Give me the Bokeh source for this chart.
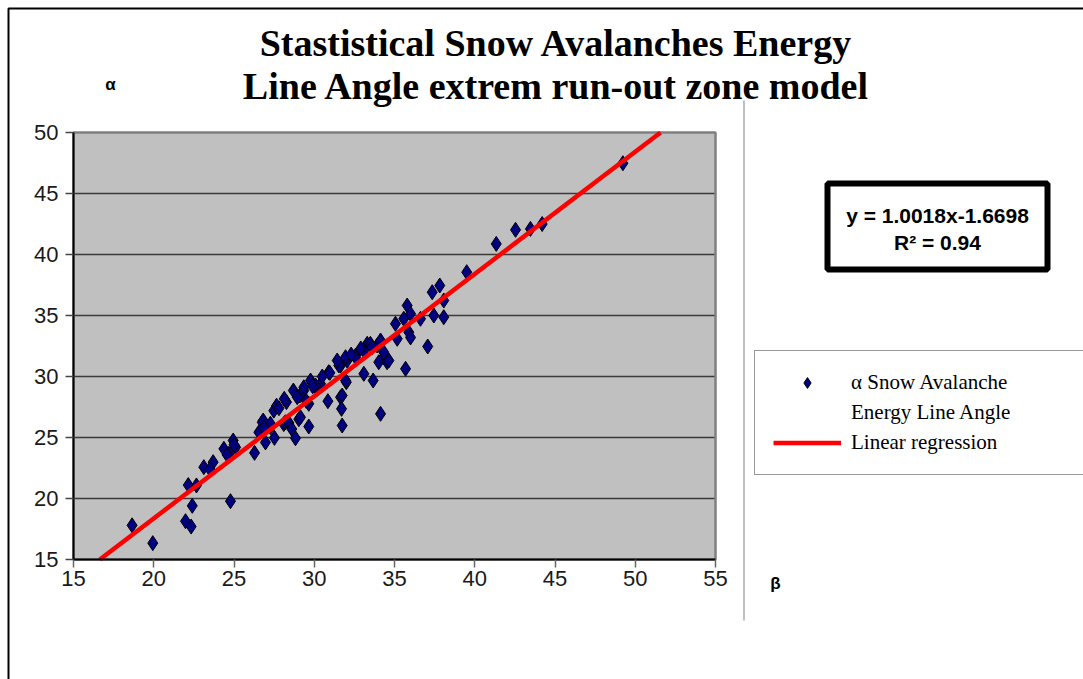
from bokeh.plotting import figure
from bokeh.models import Range1d, Label, BoxAnnotation, Legend, LegendItem, FixedTicker
from bokeh.embed import file_html
from bokeh.resources import INLINE

# ---------------- data ----------------
beta = [18.65, 19.94, 21.98, 22.33, 22.40, 22.15, 22.66, 23.12, 23.70, 23.50,
        24.78, 24.37, 24.95, 24.68, 25.10, 24.57, 26.28, 26.55, 26.96, 26.76,
        26.82, 27.52, 28.10, 27.27, 27.27, 27.48, 27.65, 28.27, 28.20, 28.42,
        28.60, 28.83, 29.04, 29.14, 29.66, 29.35, 29.35, 29.77, 30.39, 30.18,
        30.08, 30.90, 30.97, 30.85, 31.64, 31.70, 31.74, 32.00, 31.95, 31.64,
        31.53, 32.05, 31.43, 31.95, 32.57, 32.57, 33.09, 33.67, 34.13, 33.30,
        33.92, 34.33, 34.02, 34.54, 28.13, 29.10, 28.70, 26.86, 31.74, 33.09,
        33.50, 34.13, 34.33, 34.65, 35.69, 35.06, 35.17, 35.58, 35.79, 35.89,
        36.00, 36.62, 37.45, 38.07, 37.07, 37.35, 37.82, 38.07, 39.50, 41.34,
        42.54, 43.47, 44.20, 49.23, 29.66, 28.94, 27.80, 25.00, 36.00, 32.30,
        32.90, 33.60, 30.50, 29.90, 29.50]
alpha = [17.80, 16.34, 18.14, 17.70, 19.40, 21.10, 21.07, 22.57, 22.98, 22.40,
         19.78, 24.07, 24.75, 23.66, 24.20, 23.58, 23.74, 25.43, 24.60, 26.25,
         26.39, 24.97, 26.10, 25.85, 26.13, 27.20, 27.60, 27.90, 26.25, 26.20,
         25.70, 24.94, 26.50, 26.66, 25.90, 28.85, 29.12, 29.67, 29.40, 28.99,
         29.26, 30.35, 30.30, 27.98, 28.30, 27.35, 25.98, 29.53, 29.67, 30.90,
         30.90, 31.30, 31.31, 31.58, 31.70, 31.58, 30.22, 29.67, 26.94, 32.68,
         32.54, 31.58, 31.17, 31.17, 28.17, 28.44, 28.85, 25.80, 28.44, 32.13,
         32.68, 32.95, 31.99, 31.31, 30.63, 34.32, 33.09, 34.73, 35.82, 33.63,
         35.14, 34.73, 35.00, 34.86, 32.46, 36.91, 37.46, 36.23, 38.55, 40.87,
         42.02, 42.10, 42.50, 47.48, 27.76, 28.30, 27.40, 24.40, 33.20, 31.80,
         32.30, 32.40, 30.00, 29.20, 28.00]

x_ticks = [15, 20, 25, 30, 35, 40, 45, 50, 55]
y_ticks = [15, 20, 25, 30, 35, 40, 45, 50]
slope = 1.0018
intercept = -1.6698
r_squared = 0.94

title_lines = ["Stastistical Snow Avalanches Energy",
               "Line Angle extrem run-out zone model"]
y_label = "α"
x_label = "β"
legend_labels = ["α Snow Avalanche", "Energy Line Angle", "Linear regression"]

# ---------------- layout (page pixel coordinates) ----------------
W, H = 1083, 679
FL, FT, FR, FB = 73, 132, 715, 559   # plot area edges on the page
x0, x1 = x_ticks[0], x_ticks[-1]
y0, y1 = y_ticks[0], y_ticks[-1]
kx = (FR - FL) / (x1 - x0)
ky = (FB - FT) / (y1 - y0)

# the frame covers the whole canvas; the plot area is positioned by the ranges
p = figure(width=W, height=H, output_backend="svg", toolbar_location=None,
           x_range=Range1d(x0 - FL / kx, x0 + (W - FL) / kx),
           y_range=Range1d(y0 - (H - FB) / ky, y0 + FB / ky),
           min_border=0)
p.min_border_left = p.min_border_right = p.min_border_top = p.min_border_bottom = 0
p.background_fill_color = "white"
p.border_fill_color = "white"
p.outline_line_color = None

# plot-area background
p.add_layout(BoxAnnotation(left=x0, right=x1, bottom=y0, top=y1,
                           fill_color="#C0C0C0", fill_alpha=1,
                           line_color=None, level="image"))

p.xgrid.visible = False
p.ygrid.ticker = FixedTicker(ticks=y_ticks[1:-1])
p.ygrid.cross_bounds = (x0, x1)
p.ygrid.grid_line_color = "#3a3a3a"
p.ygrid.grid_line_width = 1.5

# plot-area border
p.add_layout(BoxAnnotation(left=x0, right=x1, bottom=y0, top=y1,
                           fill_color=None, line_color="#808080", line_alpha=1,
                           line_width=2.5, level="underlay"))

p.xaxis.fixed_location = y0
p.yaxis.fixed_location = x0
p.xaxis.bounds = (x0, x1)
p.yaxis.bounds = (y0, y1)
for ax, ticks, standoff, tick_col in ((p.xaxis, x_ticks, 3, "#666666"),
                                      (p.yaxis, y_ticks, 7, "#444444")):
    ax.ticker = FixedTicker(ticks=ticks)
    ax.axis_line_color = "black"
    ax.axis_line_width = 2
    ax.major_tick_in = 0
    ax.major_tick_out = 8
    ax.major_tick_line_color = tick_col
    ax.major_tick_line_width = 1.5
    ax.minor_tick_line_color = None
    ax.major_label_text_font = "Liberation Sans"
    ax.major_label_text_font_size = "22px"
    ax.major_label_text_color = "#1a1a1a"
    ax.major_label_standoff = standoff

sc = p.scatter(beta, alpha, marker="diamond", size=15,
               fill_color="#000080", line_color="black", line_width=1)

# regression line across the visible y range
reg_x = [(y0 - intercept) / slope, (y1 - intercept) / slope]
reg_y = [slope * v + intercept for v in reg_x]
ln = p.line(reg_x, reg_y, line_color="#FF0000", line_width=4.5)


def sx(px):
    return px


def sy(py):
    return H - py


def box(l, t, r, b, **kw):
    p.add_layout(BoxAnnotation(left=sx(l), right=sx(r), top=sy(t), bottom=sy(b),
                               left_units="screen", right_units="screen",
                               top_units="screen", bottom_units="screen", **kw))


def lab(text, px, py, size, font="Liberation Sans", style="normal",
        align="center", baseline="middle", color="black"):
    p.add_layout(Label(x=sx(px), y=sy(py), x_units="screen", y_units="screen",
                       text=text, text_font=font, text_font_size=f"{size}px",
                       text_font_style=style, text_align=align,
                       text_baseline=baseline, text_color=color))


# outer chart frame (left / top visible)
box(8, 8, 1300, 900, fill_color=None, line_color="black", line_alpha=1,
    line_width=2)
# thin vertical separator
box(743, 100, 744, 620, fill_color="#808080", fill_alpha=1, line_color=None)
# equation box
box(827, 183, 1047, 269, fill_color="white", fill_alpha=1,
    line_color="black", line_alpha=1, line_width=6)

lab(f"y = {slope}x{intercept}", 937, 215, 21, style="bold")
lab(f"R\u00b2 = {r_squared}", 937, 242, 21, style="bold")

lab(title_lines[0], 556, 42, 38, font="Liberation Serif", style="bold",
    baseline="alphabetic")
lab(title_lines[1], 556, 85, 38, font="Liberation Serif", style="bold",
    baseline="alphabetic")
lab(y_label, 110, 84, 17, style="bold")
lab(x_label, 775, 583, 17, style="bold")

legend = Legend(items=[LegendItem(label=legend_labels[0], renderers=[sc]),
                       LegendItem(label=legend_labels[1], renderers=[]),
                       LegendItem(label=legend_labels[2], renderers=[ln])],
                location=(sx(754), sy(475)))
legend.margin = 0
legend.padding = 18
legend.spacing = 3
legend.glyph_width = 68
legend.glyph_height = 27
legend.label_height = 27
legend.label_width = 260
legend.label_standoff = 10
legend.label_text_font = "Liberation Serif"
legend.label_text_font_size = "21px"
legend.label_text_color = "black"
legend.border_line_color = "#333333"
legend.border_line_width = 1
legend.background_fill_color = "white"
legend.background_fill_alpha = 1
p.add_layout(legend)

open("out.html", "w").write(file_html(p, INLINE))
